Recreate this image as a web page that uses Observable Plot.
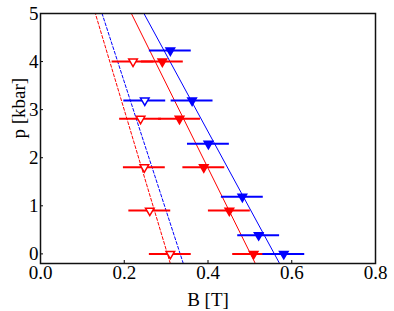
<!DOCTYPE html>
<html>
<head>
<meta charset="utf-8">
<script src="https://cdn.jsdelivr.net/npm/d3@7"></script>
<script src="https://cdn.jsdelivr.net/npm/@observablehq/plot@0.6"></script>
<style>
  html, body { margin: 0; padding: 0; background: #fff; }
  svg, svg text { font-family: "Liberation Serif", "Times New Roman", serif !important; }
</style>
</head>
<body>
<div id="chart"></div>
<script>
// Data
const blueFilledB = [0.310, 0.362, 0.401, 0.482, 0.521, 0.581];
const blueFilledP = [4.23, 3.19, 2.29, 1.19, 0.39, 0.0];
const blueOpenB = [0.249];
const blueOpenP = [3.19];
const redFilledB = [0.291, 0.332, 0.390, 0.451, 0.509];
const redFilledP = [4.0, 2.81, 1.80, 0.90, 0.0];
const redOpenB = [0.221, 0.239, 0.248, 0.261, 0.310];
const redOpenP = [4.0, 2.81, 1.80, 0.90, 0.0];
const errB = 0.05;

// Fit lines: B at p = -0.2 and p = 5
const lineP = [-0.2, 5];
const blueSolidB = [0.571, 0.247];
const redSolidB = [0.513, 0.217];
const blueDashB = [0.341, 0.147];
const redDashB = [0.310, 0.131];

const xTicks = [0, 0.2, 0.4, 0.6, 0.8];
const yTicks = [0, 1, 2, 3, 4, 5];
const xLabel = "B [T]";
const yLabel = "p [kbar]";

const pts = (B, P) => B.map((b, i) => ({B: b, p: P[i]}));
const lineData = (B) => B.map((b, i) => ({B: b, p: lineP[i]}));

const BLUE = "#0000ff";
const RED = "#ff0000";

const bf = pts(blueFilledB, blueFilledP);
const bo = pts(blueOpenB, blueOpenP);
const rf = pts(redFilledB, redFilledP);
const ro = pts(redOpenB, redOpenP);

const bars = (data, color) => Plot.ruleY(data, {
  y: "p", x1: d => d.B - errB, x2: d => d.B + errB, stroke: color, strokeWidth: 2
});

const chart = Plot.plot({
  width: 394,
  height: 311,
  marginLeft: 40,
  marginRight: 19,
  marginTop: 13,
  marginBottom: 48,
  style: {fontFamily: "'Liberation Serif', serif", fontSize: "19px", background: "#fff", color: "#000"},
  x: {domain: [0, 0.8]},
  y: {domain: [-0.2, 5]},
  marks: [
    Plot.line(lineData(redDashB), {x: "B", y: "p", stroke: RED, strokeWidth: 1, strokeDasharray: "3,2"}),
    Plot.line(lineData(blueDashB), {x: "B", y: "p", stroke: BLUE, strokeWidth: 1, strokeDasharray: "3,2"}),
    Plot.line(lineData(redSolidB), {x: "B", y: "p", stroke: RED, strokeWidth: 1}),
    Plot.line(lineData(blueSolidB), {x: "B", y: "p", stroke: BLUE, strokeWidth: 1}),
    bars(ro, RED),
    bars(rf, RED),
    bars(bo, BLUE),
    bars(bf, BLUE),
    Plot.dot(ro, {x: "B", y: "p", symbol: "triangle", rotate: 180, r: 3.2, stroke: RED, strokeWidth: 1.5, fill: "#fff"}),
    Plot.dot(rf, {x: "B", y: "p", symbol: "triangle", rotate: 180, r: 3.2, stroke: RED, strokeWidth: 1.5, fill: RED}),
    Plot.dot(bo, {x: "B", y: "p", symbol: "triangle", rotate: 180, r: 3.2, stroke: BLUE, strokeWidth: 1.5, fill: "#fff"}),
    Plot.dot(bf, {x: "B", y: "p", symbol: "triangle", rotate: 180, r: 3.2, stroke: BLUE, strokeWidth: 1.5, fill: BLUE}),
    Plot.axisX(xTicks, {tickSize: -3, tickPadding: 5, tickFormat: d3.format(".1f"), label: null, fontSize: 19}),
    Plot.axisY(yTicks, {tickSize: -3, tickPadding: 5, tickFormat: d3.format("d"), label: null, fontSize: 19}),
    Plot.text([xLabel], {frameAnchor: "bottom", dy: 42, fontSize: 19, fill: "#000"}),
    Plot.text([yLabel], {frameAnchor: "left", dx: -22, rotate: -90, fontSize: 19, fill: "#000"}),
    Plot.frame({stroke: "#111", strokeWidth: 1.5})
  ]
});
document.getElementById("chart").appendChild(chart);
</script>
</body>
</html>
